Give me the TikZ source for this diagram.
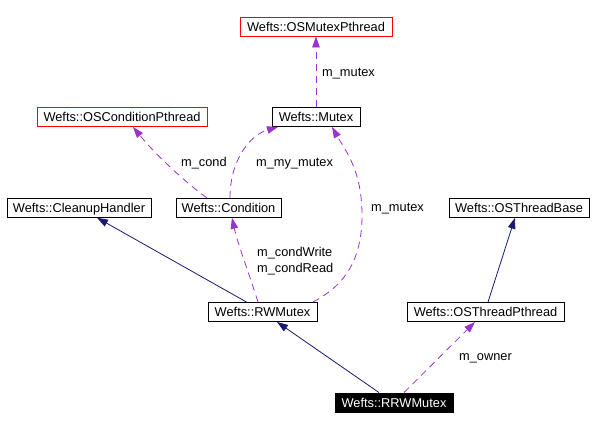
\documentclass[tikz,border=0pt]{standalone}
\usepackage{fontspec}
\setmainfont{Liberation Sans}
\usetikzlibrary{arrows.meta}
\definecolor{navy}{HTML}{191970}
\definecolor{purp}{HTML}{9A32CD}
\begin{document}
\begin{tikzpicture}[x=1pt,y=-1pt,
  every node/.style={font=\fontsize{12.8}{16}\selectfont, text height=9.3pt, text depth=2.7pt},
  cls/.style={draw=black, line width=0.9pt, inner sep=0pt, minimum height=19pt, align=center, text height=10.8pt, text depth=1.2pt},
  redcls/.style={cls, draw=red},
  blackcls/.style={cls, fill=black, text=white},
  lbl/.style={anchor=west, inner sep=0pt, align=left},
  inh/.style={draw=navy, line width=0.8pt, -{Triangle[length=11pt,width=7.5pt]}},
  dep/.style={draw=purp, line width=0.8pt, dash pattern=on 7pt off 5pt, -{Triangle[length=11pt,width=7.5pt]}}]
\useasboundingbox (0,0) rectangle (594,430);
% nodes
\node[redcls, minimum width=152pt] (OSMutexPthread) at (316,26.5) {Wefts::OSMutexPthread};
\node[cls, minimum width=88pt] (Mutex) at (316,117) {Wefts::Mutex};
\node[redcls, minimum width=170pt] (OSConditionPthread) at (122,117) {Wefts::OSConditionPthread};
\node[cls, minimum width=144pt] (CleanupHandler) at (79,207.8) {Wefts::CleanupHandler};
\node[cls, minimum width=105pt] (Condition) at (228.5,207.8) {Wefts::Condition};
\node[cls, minimum width=140pt] (OSThreadBase) at (519,207.8) {Wefts::OSThreadBase};
\node[cls, minimum width=109pt] (RWMutex) at (262.5,312) {Wefts::RWMutex};
\node[cls, minimum width=157pt] (OSThreadPthread) at (485.5,312) {Wefts::OSThreadPthread};
\node[blackcls, minimum width=118pt] (RRWMutex) at (394,402.5) {Wefts::RRWMutex};
% connectors
\draw[dep] (Mutex.north) -- (OSMutexPthread.south);
\draw[dep] ([xshift=-21.5pt]Condition.north) .. controls (195,190) and (160,160) .. ([xshift=11pt]OSConditionPthread.south);
\draw[dep] ([xshift=1.5pt]Condition.north) .. controls (230,160) and (250,135) .. ([xshift=-38pt]Mutex.south);
\draw[dep] ([xshift=50.5pt]RWMutex.north) .. controls (345,285) and (362,260) .. (362,215) .. controls (362,170) and (345,150) .. ([xshift=16pt]Mutex.south);
\draw[dep] ([xshift=-4.5pt]RWMutex.north) .. controls (248,270) and (238,245) .. ([xshift=3.5pt]Condition.south);
\draw[inh] ([xshift=-16pt]RWMutex.north) -- ([xshift=18pt]CleanupHandler.south);
\draw[inh] ([xshift=-15pt]RRWMutex.north) -- ([xshift=14.5pt]RWMutex.south);
\draw[inh] ([xshift=2.5pt]OSThreadPthread.north) -- ([xshift=-4pt]OSThreadBase.south);
\draw[dep] ([xshift=10pt]RRWMutex.north) -- ([xshift=-10.5pt]OSThreadPthread.south);
% labels
\node[lbl] (l1) at (322,73.5) {m\_mutex};
\node[lbl] (l2) at (181,163.5) {m\_cond};
\node[lbl] (l3) at (256,163.5) {m\_my\_mutex};
\node[lbl] (l4) at (371,208.5) {m\_mutex};
\node[lbl, text height=, text depth=] (l5) at (257,261.5) {m\_condWrite\\m\_condRead};
\node[lbl] (l6) at (459,357.5) {m\_owner};
\end{tikzpicture}
\end{document}
